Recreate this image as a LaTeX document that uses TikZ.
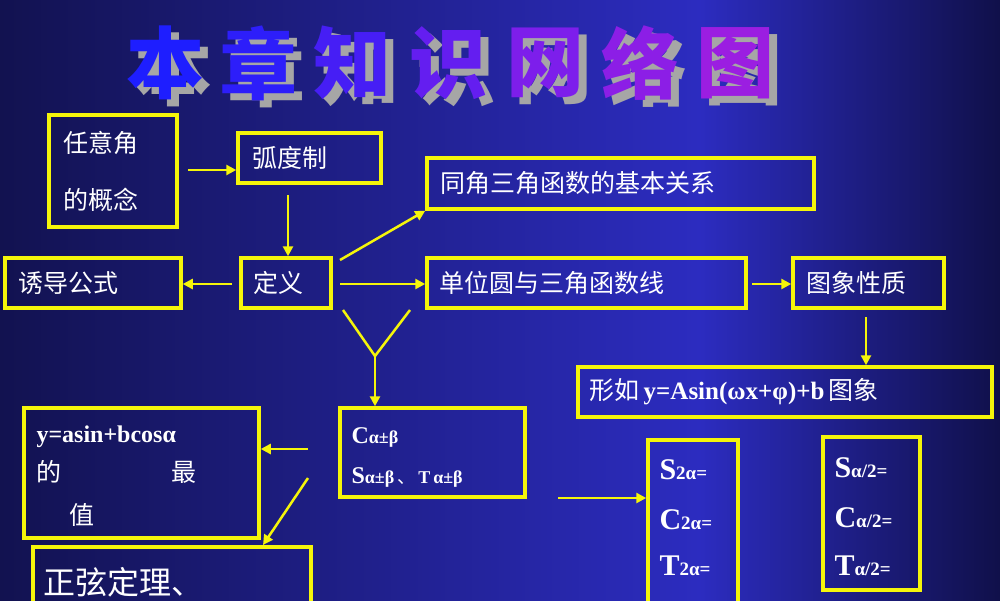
\documentclass[tikz,border=0pt]{standalone}
\usepackage{fontspec}
\setmainfont{Liberation Serif}
\newfontfamily\cjk{Noto Sans CJK SC}
\usetikzlibrary{arrows.meta}
\definecolor{ylw}{HTML}{F5F50A}
\definecolor{bgA}{HTML}{121250}
\definecolor{bgB}{HTML}{2C2CC0}
\definecolor{bgC}{HTML}{10104A}
\tikzset{
  box/.style={draw=ylw,line width=3.5pt,inner sep=0pt},
  lbl/.style={text=white,font=\cjk\fontsize{25}{30}\selectfont,anchor=west,align=left},
  ltn/.style={text=white,anchor=west,font=\bfseries\fontsize{24}{26}\selectfont},
  arr/.style={draw=ylw,line width=2.5pt,-{Triangle[length=10pt,width=10pt]}},
  ln/.style={draw=ylw,line width=2.5pt},
  ttl/.style={font=\cjk\bfseries\fontsize{78}{80}\selectfont,inner sep=0pt}
}
\begin{document}
\begin{tikzpicture}[x=1pt,y=-1pt]
\useasboundingbox (0,0) rectangle (1000,600);
\shade[left color=bgA,right color=bgB] (0,0) rectangle (700,600);
\shade[left color=bgB,right color=bgC] (699.5,0) rectangle (1000,600);
% title
\foreach \c/\x/\col in {本/165/{rgb,255:red,30;green,30;blue,255},章/258/{rgb,255:red,45;green,30;blue,250},知/352/{rgb,255:red,70;green,30;blue,245},识/448/{rgb,255:red,100;green,30;blue,240},网/545/{rgb,255:red,125;green,30;blue,235},络/640/{rgb,255:red,140;green,30;blue,230},图/735/{rgb,255:red,155;green,30;blue,225}}{
  \node[ttl,text=gray!70] at (\x+8,70) {\c};
  \node[ttl,text=\col] (t\x) at (\x,63) {\c};
}
% boxes
\node[box,minimum width=128,minimum height=112] (rya) at (113,171) {};
\node[lbl] at (60,143) {任意角};
\node[lbl] at (60,200) {的概念};
\node[box,minimum width=143,minimum height=50] (hdz) at (309.5,158) {};
\node[lbl] at (249,158) {弧度制};
\node[box,minimum width=387,minimum height=51] (tj) at (620.5,183.5) {};
\node[lbl] at (437,183.5) {同角三角函数的基本关系};
\node[box,minimum width=176,minimum height=50] (ydgs) at (93,283) {};
\node[lbl] at (15,283) {诱导公式};
\node[box,minimum width=90,minimum height=50] (dy) at (286,283) {};
\node[lbl] at (250,283) {定义};
\node[box,minimum width=319,minimum height=50] (dwy) at (586.5,283) {};
\node[lbl] at (436,283) {单位圆与三角函数线};
\node[box,minimum width=151,minimum height=50] (txxz) at (868.5,283) {};
\node[lbl] at (803,283) {图象性质};
\node[box,minimum width=414,minimum height=50] (xr) at (785,392) {};
\node[lbl] at (586,392) {形如\,{\rmfamily\bfseries y=Asin(ωx+φ)+b}\,图象};
\node[box,minimum width=235,minimum height=130] (ya) at (141.5,473) {};
\node[ltn] at (33,437) {y=asin+bcosα};
\node[lbl] at (33,472) {的};
\node[lbl] at (168,472) {最};
\node[lbl] at (66,515) {值};
\node[box,minimum width=185,minimum height=89] (cab) at (432.5,452.5) {};
\node[ltn] at (348,437) {C\fontsize{18}{20}\selectfont α±β};
\node[ltn] at (348,477) {S\fontsize{18}{20}\selectfont α±β\,{\cjk\mdseries 、}\,T\,α±β};
\node[box,minimum width=90,minimum height=180] (s2) at (693,530) {};
\node[ltn,font=\bfseries\fontsize{30}{30}\selectfont] at (656,470) {S\fontsize{19}{20}\selectfont 2α=};
\node[ltn,font=\bfseries\fontsize{30}{30}\selectfont] at (656,520) {C\fontsize{19}{20}\selectfont 2α=};
\node[ltn,font=\bfseries\fontsize{30}{30}\selectfont] at (656,566) {T\fontsize{19}{20}\selectfont 2α=};
\node[box,minimum width=97,minimum height=153] (sh) at (871.5,513.5) {};
\node[ltn,font=\bfseries\fontsize{30}{30}\selectfont] at (831,468) {S\fontsize{19}{20}\selectfont α/2=};
\node[ltn,font=\bfseries\fontsize{30}{30}\selectfont] at (831,518) {C\fontsize{19}{20}\selectfont α/2=};
\node[ltn,font=\bfseries\fontsize{30}{30}\selectfont] at (831,566) {T\fontsize{19}{20}\selectfont α/2=};
\node[box,minimum width=278,minimum height=100] (zx) at (172,597) {};
\node[lbl,font=\cjk\fontsize{32}{34}\selectfont] at (40,582) {正弦定理、};
% connectors
\coordinate (y1) at (343,310); \coordinate (y2) at (410,310); \coordinate (yj) at (375,356);
\coordinate (a1) at (188,170); \coordinate (a2) at (288,195); \coordinate (a3) at (232,284);
\coordinate (a4) at (340,260); \coordinate (a5) at (340,284); \coordinate (a6) at (752,284);
\coordinate (a7) at (866,317); \coordinate (a8) at (308,449); \coordinate (a9) at (308,478);
\coordinate (a9e) at (263,545); \coordinate (a10) at (558,498);
\draw[arr] (a1) -- (hdz.west|-a1);
\draw[arr] (a2) -- (dy.north-|a2);
\draw[arr] (a3) -- (ydgs.east|-a3);
\draw[arr] (a4) -- (tj.south west);
\draw[arr] (a5) -- (dwy.west|-a5);
\draw[arr] (a6) -- (txxz.west|-a6);
\draw[arr] (a7) -- (xr.north-|a7);
\draw[ln] (y1) -- (yj) -- (y2);
\draw[arr] (yj) -- (cab.north-|yj);
\draw[arr] (a8) -- (ya.east|-a8);
\draw[arr] (a9) -- (a9e);
\draw[arr] (a10) -- (s2.west|-a10);
\end{tikzpicture}
\end{document}
